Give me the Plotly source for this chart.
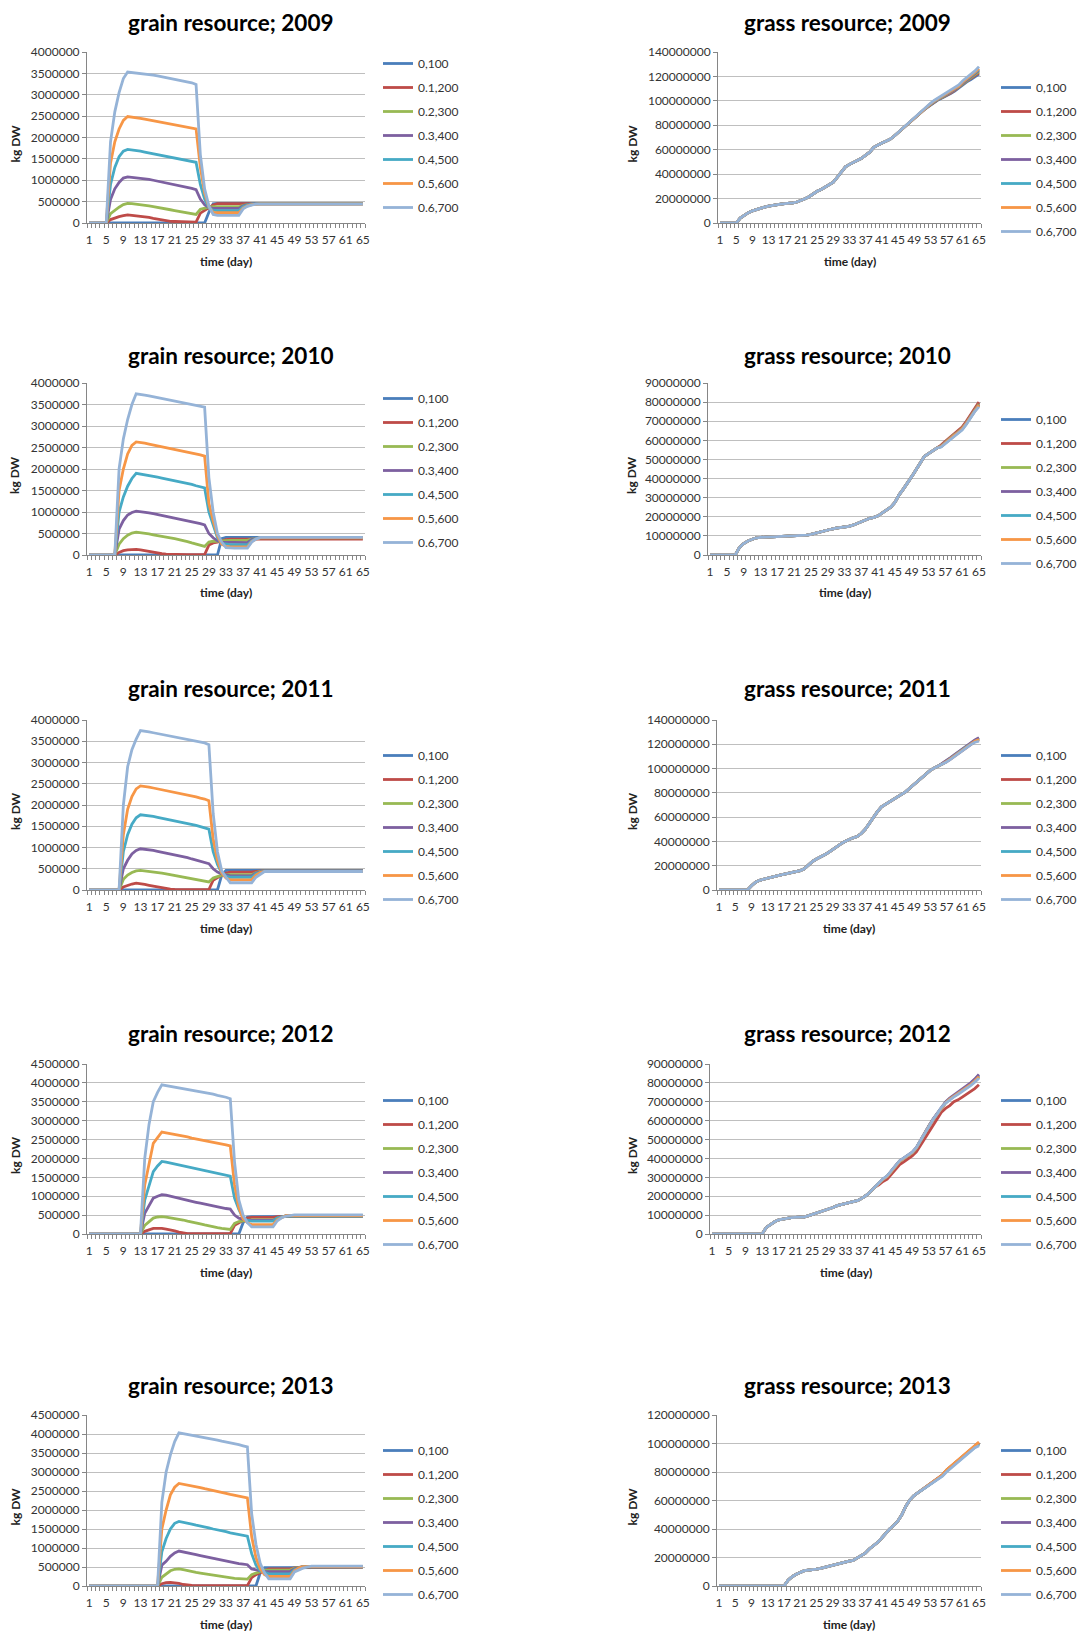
import plotly.graph_objects as go

# ---------------------------------------------------------------------------
# data (x = day 1..65)
# ---------------------------------------------------------------------------
DAYS = list(range(1, 66))
YEARS = [2009, 2010, 2011, 2012, 2013]
SERIES = ["0,100", "0.1,200", "0.2,300", "0.3,400", "0.4,500", "0.5,600", "0.6,700"]
COLORS = ["#4A7EBB", "#BE4B48", "#98B954", "#7D60A0", "#46AAC5", "#F79646", "#95B3D7"]

# grain resource in thousand kg DW, one list per series (order of SERIES)
GRAIN_2009 = [
    [0]*28 + [250, 450] + [460]*35,
    [0]*5 + [80, 120, 150, 170, 190, 180, 170, 160, 150, 130, 110, 90, 70, 50, 40, 35, 30, 25, 20, 20, 20] + [230, 290, 340, 420] + [455]*35,
    [0]*5 + [220, 300, 370, 430, 460, 455, 445, 435, 420, 400, 385, 370, 350, 330, 310, 290, 270, 250, 230, 210, 200] + [320, 350, 370] + [380]*7 + [410, 430, 445] + [450]*26,
    [0]*5 + [550, 800, 950, 1050, 1080, 1070, 1060, 1050, 1035, 1020, 1000, 980, 960, 940, 920, 900, 880, 860, 840, 810, 780] + [560, 430, 360, 340] + [340]*6 + [400, 430, 445] + [450]*26,
    [0]*5 + [900, 1300, 1550, 1680, 1720, 1710, 1700, 1680, 1660, 1640, 1620, 1600, 1580, 1560, 1540, 1520, 1500, 1480, 1460, 1440, 1420] + [900, 560, 350, 300] + [290]*6 + [380, 420, 440] + [450]*26,
    [0]*5 + [1400, 1900, 2200, 2400, 2490, 2480, 2470, 2450, 2430, 2410, 2400, 2380, 2360, 2340, 2320, 2300, 2280, 2260, 2240, 2220, 2200] + [1300, 700, 380, 250] + [240]*6 + [350, 400, 430] + [445]*26,
    [0]*5 + [1900, 2600, 3050, 3380, 3530, 3520, 3510, 3500, 3490, 3470, 3460, 3440, 3420, 3400, 3390, 3370, 3350, 3320, 3300, 3280, 3240] + [1600, 800, 400, 200] + [180]*6 + [330, 390, 420] + [440]*26,
]
GRAIN_2010 = [
    [0]*31 + [380] + [410]*33,
    [0]*7 + [60, 100, 120, 130, 130, 120, 100, 80, 60, 40, 30, 20, 15, 10, 10, 10, 10, 10, 10, 10, 10] + [230, 280, 300, 330, 360] + [370]*32,
    [0]*7 + [250, 380, 460, 510, 530, 520, 505, 490, 470, 455, 440, 420, 400, 380, 360, 340, 310, 280, 250, 220, 200] + [300, 320, 320, 330, 340] + [340]*5 + [370, 390] + [400]*25,
    [0]*7 + [600, 800, 930, 990, 1020, 1010, 995, 980, 960, 940, 920, 900, 880, 860, 840, 815, 790, 770, 750, 730, 700] + [500, 400, 330, 300, 300] + [290]*5 + [360, 390] + [405]*25,
    [0]*7 + [1000, 1350, 1600, 1780, 1900, 1885, 1870, 1850, 1830, 1810, 1790, 1770, 1750, 1730, 1710, 1690, 1670, 1640, 1610, 1590, 1560] + [1000, 700, 400, 270, 250] + [240]*5 + [330, 380] + [405]*25,
    [0]*7 + [1500, 2000, 2350, 2550, 2630, 2620, 2600, 2580, 2560, 2540, 2520, 2500, 2480, 2460, 2440, 2420, 2400, 2370, 2350, 2330, 2300] + [1200, 800, 450, 250, 200] + [190]*5 + [310, 370] + [405]*25,
    [0]*7 + [2000, 2700, 3150, 3500, 3750, 3740, 3720, 3700, 3680, 3660, 3640, 3620, 3600, 3580, 3560, 3540, 3520, 3500, 3480, 3460, 3440] + [1800, 1000, 500, 300, 170] + [160]*5 + [300, 370] + [410]*25,
]
GRAIN_2011 = [
    [0]*31 + [350] + [460]*33,
    [0]*8 + [70, 110, 140, 160, 150, 130, 110, 90, 70, 50, 30, 20, 15, 10, 10, 10, 10, 10, 10, 10, 10] + [230, 300, 350, 400] + [420]*6 + [440, 450] + [455]*24,
    [0]*8 + [250, 350, 410, 450, 460, 450, 440, 425, 410, 395, 380, 360, 340, 320, 300, 280, 260, 240, 220, 200, 190] + [280, 320, 350, 360] + [360]*6 + [410, 440] + [450]*24,
    [0]*8 + [500, 700, 850, 930, 970, 960, 945, 930, 910, 890, 870, 850, 830, 800, 780, 760, 730, 700, 680, 650, 620] + [500, 420, 380, 350] + [330]*6 + [400, 430] + [450]*24,
    [0]*8 + [900, 1300, 1550, 1700, 1770, 1760, 1745, 1730, 1710, 1690, 1670, 1650, 1630, 1610, 1590, 1570, 1550, 1520, 1490, 1460, 1430] + [900, 600, 400, 330] + [300]*6 + [380, 420] + [445]*24,
    [0]*8 + [1300, 1900, 2200, 2380, 2450, 2440, 2420, 2400, 2380, 2360, 2340, 2320, 2300, 2280, 2260, 2240, 2220, 2190, 2160, 2140, 2100] + [1200, 700, 400, 280] + [240]*6 + [350, 410] + [440]*24,
    [0]*8 + [2000, 2900, 3300, 3550, 3750, 3740, 3720, 3700, 3680, 3660, 3640, 3620, 3600, 3580, 3560, 3540, 3520, 3500, 3480, 3460, 3420] + [1800, 900, 450, 300] + [170]*6 + [300, 370] + [435]*24,
]
GRAIN_2012 = [
    [0]*36 + [300, 450] + [460]*7 + [470]*20,
    [0]*13 + [70, 120, 150, 150, 150, 130, 110, 80, 50, 20, 10, 10, 10, 10, 10, 10, 10, 10, 10, 10, 10] + [230, 300, 350, 420] + [440]*6 + [460, 470] + [475]*19,
    [0]*13 + [230, 330, 420, 450, 460, 445, 430, 410, 390, 370, 340, 320, 290, 270, 240, 210, 190, 170, 150, 130, 120] + [280, 330, 350, 370] + [370]*6 + [420, 450] + [475]*19,
    [0]*13 + [550, 750, 950, 1000, 1040, 1030, 1000, 970, 945, 920, 890, 865, 840, 815, 790, 765, 740, 715, 690, 675, 660] + [500, 420, 380, 360] + [360]*6 + [420, 460] + [480]*19,
    [0]*13 + [900, 1300, 1650, 1800, 1920, 1900, 1875, 1850, 1825, 1800, 1775, 1750, 1725, 1700, 1675, 1650, 1625, 1600, 1580, 1555, 1530] + [950, 650, 420, 360] + [340]*6 + [420, 460] + [480]*19,
    [0]*13 + [1300, 1900, 2400, 2550, 2700, 2680, 2660, 2640, 2610, 2590, 2570, 2540, 2520, 2500, 2470, 2450, 2430, 2400, 2380, 2360, 2330] + [1300, 700, 400, 300] + [250]*6 + [380, 440] + [485]*19,
    [0]*13 + [2000, 2900, 3500, 3750, 3950, 3930, 3910, 3890, 3870, 3850, 3830, 3810, 3790, 3760, 3740, 3720, 3700, 3670, 3650, 3620, 3580] + [1900, 900, 500, 300] + [190]*6 + [350, 430] + [470, 490] + [505]*17,
]
GRAIN_2013 = [
    [0]*40 + [350] + [480]*5 + [490]*19,
    [0]*17 + [60, 90, 95, 90, 70, 40, 20, 15, 10, 10, 10, 10, 10, 10, 10, 10, 10, 10, 10, 10, 10] + [220, 300, 350, 400] + [450]*6 + [480, 495] + [500]*15,
    [0]*17 + [230, 320, 400, 440, 450, 430, 400, 380, 360, 340, 320, 300, 280, 260, 240, 220, 210, 200, 195, 190, 180] + [300, 350, 380, 420] + [420]*6 + [470, 495] + [505]*15,
    [0]*17 + [550, 650, 780, 870, 920, 900, 875, 850, 825, 800, 775, 750, 720, 700, 670, 650, 630, 610, 590, 575, 560] + [450, 420, 400, 380] + [380]*6 + [450, 490] + [510]*15,
    [0]*17 + [900, 1250, 1500, 1650, 1700, 1680, 1650, 1630, 1600, 1580, 1550, 1530, 1500, 1480, 1450, 1430, 1400, 1380, 1350, 1330, 1310] + [850, 550, 400, 350] + [320]*6 + [430, 480] + [510]*15,
    [0]*17 + [1500, 2000, 2400, 2600, 2700, 2680, 2660, 2640, 2610, 2590, 2560, 2540, 2510, 2490, 2460, 2440, 2410, 2390, 2370, 2350, 2320] + [1300, 750, 450, 300] + [250]*6 + [400, 470] + [510]*15,
    [0]*17 + [2200, 3000, 3450, 3800, 4030, 4010, 3990, 3970, 3940, 3920, 3900, 3880, 3860, 3840, 3810, 3790, 3770, 3740, 3720, 3690, 3660] + [1900, 1100, 600, 350] + [190]*6 + [370, 430] + [470, 500] + [525]*13,
]

# grass resource in million kg DW; the seven series run on top of each other
# for most of the season, so the shared start is kept once and each series
# gets its own end part
GRASS_2009_START = [0]*5 + [4.0, 6.5, 8.5, 10.0, 11.2, 12.3, 13.0, 13.8, 14.5, 15.0, 15.5, 15.8, 16.0, 16.4, 17.2,
                            18.3, 19.8, 21.5, 24.0, 26.0, 27.5, 29.5, 31.0, 33.5, 37.5, 42.0, 46.0, 48.0, 49.5, 51.0,
                            53.0, 55.5, 58.0, 62.0, 64.0, 65.5, 67.0, 68.5, 71.0, 74.0, 77.0, 80.0, 83.0, 86.0, 89.0]
GRASS_2009_END = [
    [91.5, 94.0, 96.5, 99.0, 101.0, 102.5, 104.0, 106.0, 108.0, 110.5, 113.5, 115.5, 117.5, 119.5, 122.0],
    [91.7, 94.3, 96.8, 99.3, 101.3, 102.9, 104.5, 106.5, 108.6, 111.1, 114.2, 116.3, 118.4, 120.5, 123.0],
    [91.8, 94.5, 97.0, 99.5, 101.5, 103.2, 104.9, 107.0, 109.0, 111.5, 114.7, 116.9, 119.1, 121.5, 124.0],
    [91.9, 94.6, 97.2, 99.7, 101.7, 103.5, 105.2, 107.3, 109.3, 111.8, 115.0, 117.3, 119.7, 122.3, 125.0],
    [92.0, 94.8, 97.4, 99.9, 101.9, 103.8, 105.5, 107.6, 109.6, 112.1, 115.4, 117.8, 120.3, 123.0, 125.8],
    [92.0, 95.0, 97.5, 100.0, 102.0, 104.0, 105.5, 107.5, 109.5, 112.0, 115.5, 118.0, 120.5, 123.5, 126.5],
    [92.5, 95.5, 98.0, 100.5, 102.5, 104.5, 106.5, 108.5, 110.5, 113.0, 116.5, 119.0, 121.5, 124.5, 128.0],
]
GRASS_2010_START = [0]*7 + [4.0, 6.0, 7.3, 8.3, 9.0, 9.2, 9.3, 9.4, 9.5, 9.5, 9.5, 9.6, 9.8, 10.0, 10.1, 10.2, 10.4,
                            10.8, 11.4, 12.0, 12.6, 13.2, 13.6, 14.0, 14.3, 14.6, 15.0, 15.6, 16.5, 17.8, 18.5, 19.2,
                            19.7, 20.5, 22.0, 23.5, 25.0, 27.5, 31.5, 34.5, 37.5, 41.0, 44.5, 48.0, 51.5, 53.0, 54.5, 56.0]
GRASS_2010_END = [
    [57.0, 59.0, 61.0, 63.0, 64.5, 66.5, 69.5, 73.0, 76.5, 79.5],
    [57.5, 59.5, 61.5, 63.5, 65.0, 67.0, 70.0, 73.5, 77.0, 80.0],
    [57.0, 59.0, 61.0, 62.8, 64.3, 66.3, 69.2, 72.7, 76.0, 79.0],
    [56.9, 58.9, 60.8, 62.6, 64.1, 66.0, 69.0, 72.4, 75.7, 78.6],
    [56.7, 58.6, 60.5, 62.2, 63.8, 65.7, 68.6, 72.0, 75.3, 78.0],
    [56.8, 58.8, 60.7, 62.5, 64.0, 66.0, 68.9, 72.3, 75.6, 78.4],
    [56.5, 58.3, 60.2, 61.8, 63.5, 65.4, 68.3, 71.7, 75.0, 77.5],
]
GRASS_2011_START = [0]*8 + [3.5, 6.5, 8.0, 9.0, 10.0, 10.8, 11.5, 12.2, 13.0, 13.8, 14.5, 15.3, 16.0, 17.5, 20.5, 23.5,
                            25.5, 27.0, 29.0, 31.0, 33.5, 35.7, 38.0, 40.0, 41.8, 43.0, 44.0, 46.5, 50.0, 55.0, 60.0,
                            64.5, 68.5, 70.5, 72.5, 75.0, 77.0, 78.5, 81.0, 84.0, 87.0, 90.0, 93.0, 96.0, 98.5, 100.5, 102.0]
GRASS_2011_END = [
    [104.0, 106.0, 108.5, 111.0, 113.5, 116.0, 118.5, 121.0, 123.0, 124.5],
    [103.5, 105.5, 107.8, 110.3, 112.8, 115.3, 117.8, 120.2, 122.2, 123.5],
    [104.2, 106.2, 108.7, 111.2, 113.7, 116.2, 118.7, 121.2, 123.2, 125.0],
    [104.5, 106.5, 109.0, 111.5, 114.0, 116.5, 119.0, 121.5, 123.5, 125.5],
    [103.7, 105.7, 108.0, 110.5, 113.0, 115.5, 118.0, 120.4, 122.4, 123.8],
    [103.8, 105.8, 108.2, 110.7, 113.2, 115.7, 118.2, 120.6, 122.6, 124.0],
    [103.4, 105.4, 107.5, 110.0, 112.5, 115.0, 117.3, 119.7, 121.7, 122.5],
]
GRASS_2012_START = [0]*13 + [3.5, 5.0, 6.5, 7.5, 8.0, 8.5, 8.7, 8.8, 8.9, 9.0, 9.6, 10.3, 11.0, 11.6, 12.2, 13.0,
                             14.0, 15.0, 15.5, 16.0, 16.5, 17.0, 17.8, 19.0, 20.5, 22.5, 24.8]
GRASS_2012_END = [
    [27.0, 29.0, 30.5, 33.0, 36.0, 38.5, 40.0, 41.5, 43.0, 45.5, 49.5, 53.5, 57.0, 60.5, 63.5, 67.0, 69.5, 71.5, 73.0, 74.5, 76.0, 77.5, 79.5, 81.5, 84.0],
    [26.0, 27.8, 29.0, 31.5, 34.3, 36.8, 38.2, 39.8, 41.3, 43.5, 47.0, 51.0, 54.5, 58.0, 61.0, 64.5, 66.5, 68.0, 70.0, 71.0, 72.5, 74.0, 75.5, 77.0, 79.0],
    [27.0, 29.0, 30.6, 33.1, 36.1, 38.6, 40.1, 41.6, 43.1, 45.6, 49.6, 53.6, 57.1, 60.6, 63.6, 67.1, 69.6, 71.6, 73.1, 74.6, 76.0, 77.4, 79.3, 81.2, 83.5],
    [27.1, 29.1, 30.7, 33.2, 36.2, 38.8, 40.3, 41.8, 43.3, 45.8, 49.8, 53.8, 57.3, 60.8, 63.8, 67.3, 69.9, 71.9, 73.5, 75.0, 76.5, 78.0, 80.0, 82.0, 84.5],
    [27.0, 29.0, 30.5, 33.0, 36.0, 38.5, 40.0, 41.5, 43.0, 45.5, 49.5, 53.5, 57.0, 60.5, 63.5, 67.0, 69.4, 71.3, 72.8, 74.2, 75.6, 77.0, 78.9, 80.8, 83.0],
    [27.0, 29.0, 30.5, 33.0, 36.0, 38.5, 40.0, 41.6, 43.1, 45.6, 49.6, 53.5, 57.0, 60.5, 63.5, 67.0, 69.4, 71.4, 72.9, 74.3, 75.8, 77.2, 79.1, 81.0, 83.3],
    [27.1, 29.2, 30.8, 33.3, 36.3, 38.8, 40.3, 41.8, 43.3, 45.8, 49.7, 53.6, 57.1, 60.6, 63.6, 67.0, 69.3, 71.2, 72.6, 74.0, 75.4, 76.8, 78.6, 80.4, 82.5],
]
GRASS_2013_START = [0]*17 + [4.0, 6.5, 8.2, 9.5, 10.8, 11.2, 11.4, 11.8, 12.4, 13.2, 14.0, 14.8, 15.5, 16.3, 17.0,
                             17.5, 18.0, 19.5, 21.5, 23.0, 26.0, 28.0, 30.5, 33.5, 37.0, 40.0, 42.5, 45.5, 50.0, 56.0,
                             60.5, 63.5, 65.5, 67.5, 69.5, 71.5, 73.5, 75.5]
GRASS_2013_END = [
    [77.8, 81.2, 83.7, 86.2, 88.7, 91.2, 93.6, 96.1, 98.1, 100.4],
    [77.9, 81.3, 83.8, 86.3, 88.8, 91.3, 93.8, 96.3, 98.3, 100.7],
    [77.7, 81.0, 83.5, 86.0, 88.5, 91.0, 93.4, 95.9, 97.9, 100.0],
    [77.6, 80.9, 83.4, 85.9, 88.4, 90.9, 93.3, 95.8, 97.8, 99.8],
    [77.4, 80.6, 83.1, 85.6, 88.1, 90.6, 93.0, 95.5, 97.5, 99.3],
    [78.0, 81.5, 84.0, 86.5, 89.0, 91.5, 94.0, 96.5, 98.5, 101.0],
    [77.0, 80.0, 82.5, 85.0, 87.5, 90.0, 92.5, 95.0, 97.0, 98.5],
]

GRAIN_YMAX = [4000000, 4000000, 4000000, 4500000, 4500000]
GRASS_YMAX = [140000000, 90000000, 140000000, 90000000, 120000000]
GRASS_DTICK = [20000000, 10000000, 20000000, 10000000, 20000000]

GRAIN = [GRAIN_2009, GRAIN_2010, GRAIN_2011, GRAIN_2012, GRAIN_2013]
GRASS = [
    [GRASS_2009_START + e for e in GRASS_2009_END],
    [GRASS_2010_START + e for e in GRASS_2010_END],
    [GRASS_2011_START + e for e in GRASS_2011_END],
    [GRASS_2012_START + e for e in GRASS_2012_END],
    [GRASS_2013_START + e for e in GRASS_2013_END],
]

# ---------------------------------------------------------------------------
# page layout (pixel positions on the 1080 x 1632 page)
# ---------------------------------------------------------------------------
W, H = 1080, 1632
FONT = "Lato"
ROW_TOP = [52, 383, 720, 1064, 1415]
ROW_BOTTOM = [223, 555, 890, 1234, 1586]
TITLE_Y = [23, 355, 689, 1033, 1385]
LEFT_X = (87, 365)
RIGHT_X0 = [718, 708, 717, 710, 717]
RIGHT_X1 = 981
GRAIN_LEG_Y = [61, 396, 753, 1098, 1448]
GRASS_LEG_Y = [85, 417, 753, 1098, 1448]


def fx(px):
    return px / W


def fy(px):
    return 1 - px / H


fig = go.Figure()
layout = dict(
    width=W, height=H,
    # legends sit close to the page edge; keep them from pushing the margins
    margin=dict(l=0, r=0, t=0, b=0, autoexpand=False),
    paper_bgcolor="white", plot_bgcolor="white",
    font=dict(family=FONT, color="#333333"),
    annotations=[],
)

tick_font = dict(family=FONT, size=12, color="#333333")

panels = []
for r, year in enumerate(YEARS):
    panels.append(("grain", year, GRAIN[r], 1000, GRAIN_YMAX[r], 500000,
                   LEFT_X[0], LEFT_X[1], r, GRAIN_LEG_Y[r], 378, 15, 230))
    panels.append(("grass", year, GRASS[r], 1000000, GRASS_YMAX[r], GRASS_DTICK[r],
                   RIGHT_X0[r], RIGHT_X1, r, GRASS_LEG_Y[r], 996, 632, 847))

for k, (kind, year, data, unit, ymax, dtick, x0, x1, r, leg_y, leg_x, ytitle_x, title_x) in enumerate(panels):
    n = k + 1
    xa = "x" if n == 1 else f"x{n}"
    ya = "y" if n == 1 else f"y{n}"
    leg = "legend" if n == 1 else f"legend{n}"

    for i, name in enumerate(SERIES):
        vals = data[i]
        assert len(vals) == 65, (kind, year, i, len(vals))
        fig.add_trace(go.Scatter(
            x=DAYS, y=[v * unit for v in vals], name=name, mode="lines",
            line=dict(color=COLORS[i], width=2.8),
            xaxis=xa, yaxis=ya, legend=leg, legendgroup=f"{kind}{year}_{i}",
        ))

    layout["xaxis" if n == 1 else f"xaxis{n}"] = dict(
        domain=[fx(x0), fx(x1)], anchor=ya, range=[0.5, 65.5],
        tickmode="linear", tick0=1, dtick=4,
        ticks="outside", ticklen=6, tickcolor="rgba(0,0,0,0)",
        minor=dict(tickmode="linear", tick0=0.5, dtick=1, ticks="outside",
                   ticklen=4, tickcolor="#868686", showgrid=False),
        showgrid=False, zeroline=False, showline=True, linecolor="#868686",
        tickfont=tick_font, fixedrange=True,
    )
    layout["yaxis" if n == 1 else f"yaxis{n}"] = dict(
        domain=[fy(ROW_BOTTOM[r]), fy(ROW_TOP[r])], anchor=xa, range=[0, ymax],
        tickmode="linear", tick0=0, dtick=dtick, tickformat="d",
        ticks="outside", ticklen=4, tickcolor="#868686",
        showgrid=True, gridcolor="#BFBFBF", zeroline=False,
        showline=True, linecolor="#868686", tickfont=tick_font, fixedrange=True,
    )
    layout[leg] = dict(
        x=fx(leg_x), xanchor="left", y=fy(leg_y - 12), yanchor="top",
        font=dict(family=FONT, size=12, color="#333333"),
        tracegroupgap=5, bgcolor="rgba(0,0,0,0)",
    )

    layout["annotations"] += [
        dict(text=f"<b>{kind} resource; {year}</b>", x=fx(title_x), y=fy(TITLE_Y[r]),
             xref="paper", yref="paper", showarrow=False, xanchor="center", yanchor="middle",
             font=dict(family=FONT, size=22.5, color="black")),
        dict(text="<b>time (day)</b>", x=fx((x0 + x1) / 2), y=fy(ROW_BOTTOM[r] + 38),
             xref="paper", yref="paper", showarrow=False, xanchor="center", yanchor="middle",
             font=dict(family=FONT, size=12, color="#222222")),
        dict(text="<b>kg DW</b>", x=fx(ytitle_x), y=fy((ROW_TOP[r] + ROW_BOTTOM[r]) / 2 + 6),
             xref="paper", yref="paper", showarrow=False, textangle=-90,
             xanchor="center", yanchor="middle",
             font=dict(family=FONT, size=12, color="#222222")),
    ]

fig.update_layout(**layout)
# pin the figure to the page corner (no body margin) and hide the mode bar
pin = ("document.body.style.margin = '0';"
       "var gd = document.getElementById('{plot_id}');"
       "gd.style.position = 'absolute'; gd.style.top = '0px'; gd.style.left = '0px';")
fig.write_html("out.html", config={"displayModeBar": False}, post_script=pin)
